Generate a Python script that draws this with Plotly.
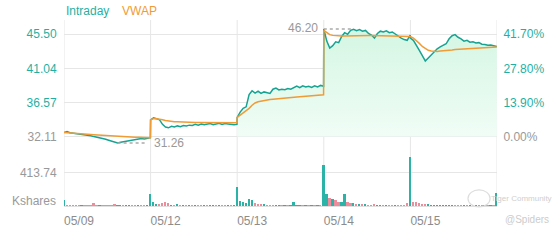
import plotly.graph_objects as go

# ---------------- data ----------------
dates = ["05/09", "05/12", "05/13", "05/14", "05/15"]
base_close = 32.11
pct_ticks = [0.0, 13.9, 27.8, 41.7]
vol_tick = 413.74

price_d1 = [32.65, 32.75, 32.6, 32.55, 32.45, 32.42, 32.35, 32.32, 32.25, 32.22,
            32.1, 32.02, 31.95, 31.88, 31.75, 31.62, 31.48, 31.38, 31.26, 31.35,
            31.42, 31.5, 31.58, 31.7, 31.72, 31.8, 31.85, 31.8, 31.9, 31.95]
price_d2 = [34.3, 34.55, 34.45, 34.3, 33.7, 33.35, 33.25, 33.45, 33.35, 33.5,
            33.4, 33.55, 33.5, 33.6, 33.55, 33.7, 33.6, 33.75, 33.65, 33.7,
            33.8, 33.65, 33.75, 33.85, 33.7, 33.8, 33.75, 33.7, 33.65, 33.7]
price_d3 = [34.6, 35.3, 35.8, 36.0, 37.6, 38.1, 37.8, 38.05, 37.75, 37.95,
            37.8, 37.75, 38.3, 38.45, 38.2, 38.3, 38.25, 38.4, 38.3, 38.55,
            38.7, 38.5, 38.75, 38.6, 38.7, 38.55, 38.75, 38.6, 38.8, 38.7]
price_d4 = [46.2, 44.6, 43.7, 44.0, 44.5, 44.4, 45.2, 45.7, 45.5, 46.0,
            46.15, 45.95, 46.1, 45.9, 46.0, 45.6, 45.4, 45.0, 45.6, 45.9,
            45.8, 45.95, 45.7, 45.8, 45.5, 45.2, 45.0, 44.8, 44.7, 45.4]
price_d5 = [45.0, 44.7, 44.1, 43.4, 42.7, 42.0, 42.4, 42.8, 43.3, 43.6,
            43.85, 44.1, 44.25, 44.9, 45.3, 45.45, 45.1, 44.9, 44.6, 44.7,
            44.45, 44.5, 44.35, 44.4, 44.2, 44.15, 44.05, 44.1, 43.95, 43.9]

vwap_d1 = [32.65, 32.63, 32.6, 32.57, 32.54, 32.5, 32.47, 32.44, 32.41, 32.38,
           32.35, 32.32, 32.29, 32.26, 32.23, 32.2, 32.17, 32.14, 32.11, 32.09,
           32.07, 32.05, 32.03, 32.02, 32.01, 32.0, 31.99, 31.98, 31.97, 31.96]
vwap_d2 = [34.3, 34.45, 34.45, 34.4, 34.3, 34.2, 34.12, 34.08, 34.05, 34.03,
           34.0, 33.98, 33.97, 33.96, 33.95, 33.94, 33.94, 33.93, 33.93, 33.92,
           33.92, 33.92, 33.91, 33.91, 33.91, 33.9, 33.9, 33.9, 33.9, 33.9]
vwap_d3 = [34.6, 34.9, 35.1, 35.4, 35.8, 36.2, 36.5, 36.65, 36.75, 36.85,
           36.9, 36.95, 37.0, 37.05, 37.08, 37.12, 37.15, 37.2, 37.23, 37.27,
           37.3, 37.33, 37.37, 37.4, 37.43, 37.46, 37.5, 37.53, 37.56, 37.58]
vwap_d4 = [46.0, 45.7, 45.45, 45.35, 45.3, 45.28, 45.27, 45.28, 45.3, 45.32,
           45.33, 45.34, 45.35, 45.35, 45.35, 45.35, 45.34, 45.33, 45.33, 45.33,
           45.33, 45.33, 45.32, 45.32, 45.31, 45.3, 45.29, 45.28, 45.27, 45.26]
vwap_d5 = [45.2, 45.0, 44.7, 44.3, 43.9, 43.6, 43.4, 43.3, 43.25, 43.25,
           43.3, 43.32, 43.35, 43.4, 43.45, 43.5, 43.53, 43.56, 43.6, 43.62,
           43.65, 43.67, 43.7, 43.72, 43.74, 43.76, 43.78, 43.8, 43.82, 43.84]

# volume (Kshares) and trade direction (u = up, d = down)
vol_d1 = [80, 20, 14, 12, 16, 10, 12, 14, 10, 12, 45, 12, 10, 14, 12,
          10, 15, 35, 12, 14, 10, 12, 10, 15, 18, 10, 12, 14, 12, 22]
vol_d2 = [160, 60, 30, 25, 45, 60, 40, 20, 15, 25, 12, 15, 10, 18, 12,
          10, 14, 20, 12, 10, 15, 12, 10, 14, 18, 12, 10, 15, 12, 10]
vol_d3 = [236, 70, 55, 45, 90, 75, 40, 35, 30, 25, 20, 18, 22, 15, 12,
          14, 12, 15, 12, 60, 15, 12, 14, 10, 12, 10, 14, 12, 15, 18]
vol_d4 = [523, 150, 110, 90, 75, 60, 55, 150, 50, 45, 40, 35, 30, 28, 25,
          22, 18, 25, 20, 15, 18, 14, 12, 15, 12, 14, 12, 15, 40, 55]
vol_d5 = [623, 60, 50, 40, 35, 30, 25, 20, 18, 15, 14, 12, 14, 15, 18,
          14, 12, 10, 12, 10, 12, 10, 12, 10, 12, 10, 12, 14, 15, 170]
dir_d1 = "udddd" + "duddd" + "ddudd" + "ddduu" + "duudd" + "uddud"
dir_d2 = "uuudd" + "ddudu" + "dudud" + "uddud" + "uudud" + "dudud"
dir_d3 = "uuuuu" + "udddu" + "ddduu" + "duduu" + "uudud" + "ududu"
dir_d4 = "uudud" + "duudd" + "ududu" + "ddduu" + "duddu" + "ddddu"
dir_d5 = "udddd" + "duuuu" + "uuuuu" + "dddud" + "ududd" + "ududu"

price_days = [price_d1, price_d2, price_d3, price_d4, price_d5]
vwap_days = [vwap_d1, vwap_d2, vwap_d3, vwap_d4, vwap_d5]
vol_days = [vol_d1, vol_d2, vol_d3, vol_d4, vol_d5]
dir_days = [dir_d1, dir_d2, dir_d3, dir_d4, dir_d5]

# ---------------- build ----------------
MIN_PER_DAY = 390
N = len(price_d1)
times, price, vwap, vol, vcol = [], [], [], [], []
for d in range(len(dates)):
    for k in range(N):
        times.append(d * MIN_PER_DAY + k * (MIN_PER_DAY - 1) / (N - 1))
    price += price_days[d]
    vwap += vwap_days[d]
    vol += vol_days[d]
    vcol += ["#2ab3a6" if c == "u" else "#ef8c9c" for c in dir_days[d]]

TEAL = "#17a392"
TEAL_TXT = "#1fb0a3"
ORANGE = "#f09b35"
GRAY = "#999999"
GRID = "#e6e6e6"
FONT = "Liberation Sans, Arial, sans-serif"

fig = go.Figure()

# fill under price (from 3rd day on) down to previous close
fs = 2 * N
fig.add_trace(go.Scatter(x=times[fs:], y=[base_close] * len(times[fs:]),
                         mode="lines", line=dict(width=0), xaxis="x2", yaxis="y",
                         hoverinfo="skip", showlegend=False))
fig.add_trace(go.Scatter(x=times[fs:], y=price[fs:], mode="lines", line=dict(width=0),
                         fill="tonexty",
                         fillgradient=dict(type="vertical",
                                           colorscale=[[0, "#f0fdf6"], [1, "#d5f6e3"]]),
                         xaxis="x2", yaxis="y", hoverinfo="skip", showlegend=False))
fig.add_trace(go.Scatter(x=times, y=price, mode="lines", name="Intraday",
                         line=dict(color=TEAL, width=1.5), xaxis="x2", yaxis="y"))
fig.add_trace(go.Scatter(x=times, y=vwap, mode="lines", name="VWAP",
                         line=dict(color=ORANGE, width=1.5), xaxis="x2", yaxis="y"))
fig.add_trace(go.Bar(x=times, y=vol, marker=dict(color=vcol, line=dict(width=0)),
                     width=8, xaxis="x", yaxis="y2", showlegend=False))

# percent axis mirror
p_lo, p_hi = 29.972, 47.363
price_ticks = [base_close * (1 + p / 100) for p in pct_ticks]


def colored(txt, i):
    c = GRAY if i == 0 else TEAL_TXT
    return f"<span style='color:{c}'>{txt}</span>"


price_text = [colored(f"{v:.2f}", i) for i, v in enumerate(price_ticks)]
pct_text = [colored(f"{p:.2f}%", i) for i, p in enumerate(pct_ticks)]

total = MIN_PER_DAY * len(dates)
shapes = []
for d in range(len(dates) + 1):
    shapes.append(dict(type="line", xref="x", yref="paper", x0=d * MIN_PER_DAY,
                       x1=d * MIN_PER_DAY, y0=0, y1=1,
                       line=dict(color=GRID, width=1), layer="below"))

# max / min markers
imax = max(range(len(price)), key=lambda i: price[i])
imin = min(range(len(price)), key=lambda i: price[i])
shapes.append(dict(type="line", xref="x2", yref="y", x0=times[imax], x1=times[imax] + 126,
                   y0=price[imax], y1=price[imax], line=dict(color="#aaaaaa", width=1.5, dash="3px,3px")))
shapes.append(dict(type="line", xref="x2", yref="y", x0=times[imin], x1=times[imin] + 131,
                   y0=price[imin], y1=price[imin], line=dict(color="#aaaaaa", width=1.5, dash="3px,3px")))
# watermark logo ring
shapes.append(dict(type="circle", xref="paper", yref="paper", x0=0.933, x1=0.984,
                   y0=-0.005, y1=0.0867, line=dict(color="#dddddd", width=1.2)))

annotations = [
    dict(text="Intraday", x=0, y=1.051, xref="paper", yref="paper", xanchor="left",
         yanchor="middle", showarrow=False, font=dict(color=TEAL_TXT, size=12)),
    dict(text="VWAP", x=0.1293, y=1.051, xref="paper", yref="paper", xanchor="left",
         yanchor="middle", showarrow=False, font=dict(color=ORANGE, size=12)),
    dict(text="Kshares", x=-0.0139, y=0.0255, xref="paper", yref="paper", xanchor="right",
         yanchor="middle", showarrow=False, font=dict(color=GRAY, size=12)),
    dict(text=f"{price[imax]:.2f}", x=times[imax], y=price[imax], xref="x2", yref="y",
         xanchor="right", yanchor="middle", xshift=-4, yshift=1, showarrow=False,
         font=dict(color=GRAY, size=12)),
    dict(text=f"{price[imin]:.2f}", x=times[imin] + 131, y=price[imin], xref="x2", yref="y",
         xanchor="left", yanchor="middle", xshift=5, showarrow=False,
         font=dict(color=GRAY, size=12)),
    dict(text="Tiger Community", x=1.057, y=0.041, xref="paper", yref="paper",
         xanchor="center", yanchor="middle", showarrow=False,
         font=dict(color="#cfcfcf", size=8)),
    dict(text="@Spiders", x=1.069, y=-0.07, xref="paper", yref="paper",
         xanchor="center", yanchor="middle", showarrow=False,
         font=dict(color="#cccccc", size=10)),
]

fig.update_layout(
    width=560, height=240,
    margin=dict(l=64, r=63, t=20, b=24),
    paper_bgcolor="white", plot_bgcolor="white",
    font=dict(family=FONT, size=12, color=GRAY),
    showlegend=False,
    bargap=0,
    xaxis=dict(domain=[0, 1], anchor="y2", range=[0, total],
               tickvals=[d * MIN_PER_DAY for d in range(len(dates))], ticktext=dates,
               ticklabelshift=15, showgrid=False, zeroline=False,
               showline=True, linecolor="#e0e0e0", linewidth=1,
               tickfont=dict(color="#8c8c8c", size=12),
               ticks="outside", ticklen=4, tickcolor="rgba(0,0,0,0)"),
    xaxis2=dict(domain=[0, 1], anchor="y", matches="x", range=[0, total],
                showticklabels=False, showgrid=False, zeroline=False, ticks=""),
    yaxis=dict(domain=[0.2857, 1], range=[p_lo, p_hi], tickvals=price_ticks,
               ticktext=price_text, gridcolor=GRID, zeroline=False,
               ticks="outside", ticklen=4, tickcolor="rgba(0,0,0,0)",
               tickfont=dict(size=12)),
    yaxis3=dict(overlaying="y", side="right", anchor="x2",
                range=[(p_lo / base_close - 1) * 100, (p_hi / base_close - 1) * 100],
                tickvals=pct_ticks, ticktext=pct_text, showgrid=False, zeroline=False,
                ticks="outside", ticklen=3, tickcolor="rgba(0,0,0,0)",
                tickfont=dict(size=12)),
    yaxis2=dict(domain=[0, 0.2704], range=[0, 630], tickvals=[vol_tick],
                ticktext=[f"{vol_tick:.2f}"], gridcolor=GRID, zeroline=False,
                ticks="outside", ticklen=4, tickcolor="rgba(0,0,0,0)",
                tickfont=dict(color=GRAY, size=12)),
    shapes=shapes,
    annotations=annotations,
)

# dummy trace to activate yaxis3
fig.add_trace(go.Scatter(x=[0], y=[0], xaxis="x2", yaxis="y3", mode="markers",
                         marker=dict(opacity=0), hoverinfo="skip", showlegend=False))

fig.write_html("out.html")
